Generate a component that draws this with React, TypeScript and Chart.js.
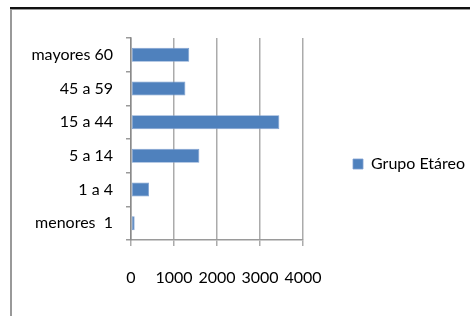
import React, { useEffect, useRef } from "react";
import { Chart, registerables } from "chart.js";

Chart.register(...registerables);

const categories = ["mayores 60", "45 a 59", "15 a 44", "5 a 14", "1 a 4", "menores  1"];
const seriesName = "Grupo Etáreo";
const seriesValues = [1355, 1265, 3450, 1590, 420, 85];
const xTicks = [0, 1000, 2000, 3000, 4000];

const FONT = "Lato, sans-serif";
const FONT_SIZE = 16;

export default function App() {
  const ref = useRef<HTMLCanvasElement | null>(null);

  useEffect(() => {
    if (!ref.current) return;
    const ctx = ref.current.getContext("2d")!;
    ctx.font = `${FONT_SIZE}px ${FONT}`;
    const textW = ctx.measureText(seriesName).width;
    const legendPad = 50;
    const legendW = legendPad + 10 + FONT_SIZE / 2 + textW + 10;
    const padRight = 470 - 303 - legendW;

    const chart = new Chart(ref.current, {
      type: "bar",
      data: {
        labels: categories,
        datasets: [
          {
            label: seriesName,
            data: seriesValues,
            backgroundColor: "#4F81BD",
            borderColor: "#7D9FD0",
            borderWidth: 0.8,
            borderSkipped: false,
            barPercentage: 0.83,
            categoryPercentage: 0.5,
          },
        ],
      },
      options: {
        indexAxis: "y",
        animation: false,
        responsive: false,
        maintainAspectRatio: false,
        layout: { padding: { top: 38, bottom: 26, left: 0, right: padRight } },
        plugins: {
          tooltip: { enabled: false },
          legend: {
            position: "right",
            maxWidth: legendW + 2,
            labels: {
              boxWidth: 10,
              boxHeight: 10,
              color: "#000",
              font: { family: FONT, size: FONT_SIZE },
              padding: legendPad,
            },
          },
        },
        scales: {
          x: {
            type: "linear",
            min: 0,
            max: 4000,
            afterBuildTicks: (scale: any) => {
              scale.ticks = xTicks.map((v) => ({ value: v }));
            },
            afterFit: (scale: any) => {
              scale.height = 50;
            },
            ticks: {
              color: "#000",
              font: { family: FONT, size: FONT_SIZE },
              padding: 22,
              maxRotation: 0,
              callback: (v: any) => String(v),
            },
            grid: {
              color: "#ABABAB",
              lineWidth: 1.5,
              tickLength: 6,
              drawOnChartArea: true,
            },
            border: { color: "#9A9A9A", width: 1.5 },
          },
          y: {
            afterFit: (scale: any) => {
              scale.width = 131;
            },
            ticks: {
              color: "#000",
              font: { family: FONT, size: FONT_SIZE },
              padding: 13,
            },
            grid: {
              color: "#9A9A9A",
              lineWidth: 1.5,
              tickLength: 5,
              drawOnChartArea: false,
            },
            border: { color: "#8A8A8A", width: 1.5 },
          },
        },
      },
    });
    return () => chart.destroy();
  }, []);

  return (
    <div style={{ position: "absolute", left: 0, top: 0, width: 470, height: 316, overflow: "hidden", background: "#fff" }}>
      <div
        style={{
          position: "absolute",
          left: 10,
          top: 7,
          width: 480,
          height: 330,
          borderTop: "2px solid #111",
        }}
      >
        <div
          style={{
            width: "100%",
            height: "100%",
            borderTop: "1px solid #999",
            borderLeft: "2px solid #999",
          }}
        />
      </div>
      <canvas
        ref={ref}
        width={470}
        height={316}
        style={{ position: "absolute", left: 0, top: 0, width: 470, height: 316 }}
      />
    </div>
  );
}
